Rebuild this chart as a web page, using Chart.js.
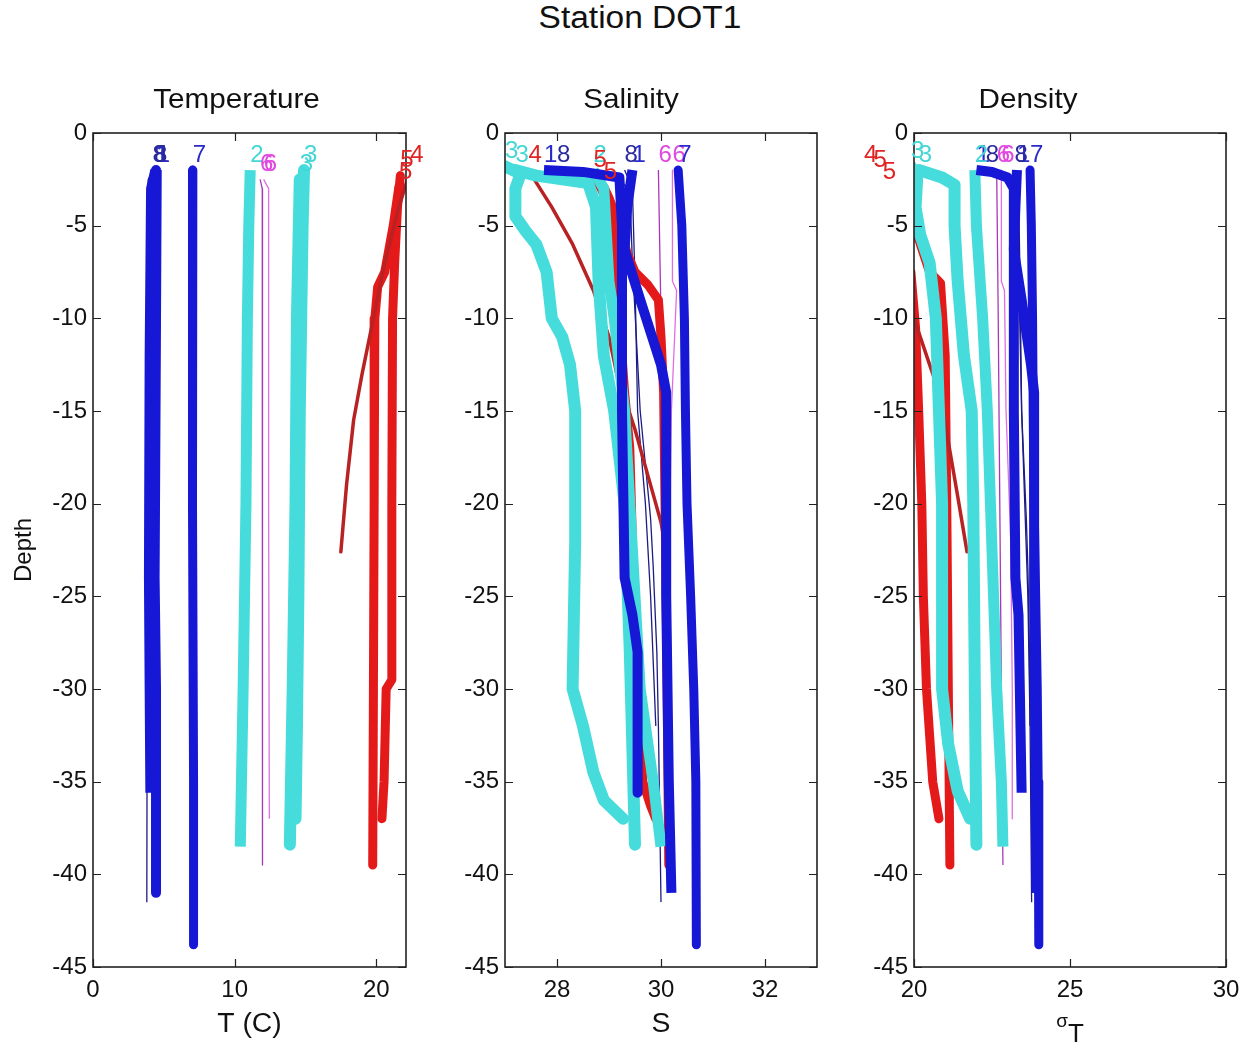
<!DOCTYPE html>
<html>
<head>
<meta charset="utf-8">
<script src="https://cdn.jsdelivr.net/npm/chart.js@4.4.0/dist/chart.umd.min.js"></script>
<style>
  body { margin: 0; background: #fff; width: 1252px; height: 1047px; position: relative; overflow: hidden;
         font-family: "Liberation Sans", Arial, sans-serif; }
  #title { position: absolute; left: 640px; top: 0px; transform: translateX(-50%) scaleX(1.08);
           font-size: 31px; line-height: 36px; color: #111; white-space: nowrap; }
  canvas { position: absolute; top: 0; }
</style>
</head>
<body>
<div id="title">Station DOT1</div>
<canvas id="cT" width="430" height="1047" style="left:0"></canvas>
<canvas id="cS" width="400" height="1047" style="left:440px"></canvas>
<canvas id="cD" width="402" height="1047" style="left:850px"></canvas>

<script>
"use strict";

// profiles: [value, depth]
// temperature (C)
const t1a = [[4.4,-2],[4.1,-3],[4.0,-12],[3.95,-24],[4.0,-30],[4.05,-35.6]];
const t1b = [[4.5,-2],[4.45,-10],[4.35,-24],[4.45,-30],[4.45,-41]];
const t2  = [[11.1,-2],[11.0,-5],[10.9,-10],[10.8,-20],[10.6,-30],[10.4,-38.5]];
const t3a = [[14.9,-2],[14.8,-5],[14.6,-15],[14.5,-25],[14.4,-32],[14.3,-37]];
const t3b = [[14.6,-2.5],[14.4,-10],[14.3,-20],[14.1,-30],[13.9,-38.4]];
const t4  = [[22.4,-2],[21.6,-4],[20.6,-7],[19.8,-10],[19.0,-13],[18.4,-15.5],[17.9,-19],[17.5,-22.6]];
const t5a = [[21.7,-2.3],[21.5,-4],[21.3,-7],[21.15,-10],[21.1,-20],[21.1,-29.5],[20.7,-30],[20.55,-35],[20.4,-37]];
const t5b = [[21.6,-2.9],[21.2,-5],[20.6,-7.5],[20.1,-8.3],[19.9,-10],[19.85,-20],[19.8,-30],[19.75,-39.5]];
const t6a = [[11.8,-2.5],[11.95,-3],[11.95,-10],[12.0,-20],[11.95,-39.5]];
const t6b = [[12.05,-2.5],[12.4,-3],[12.4,-20],[12.45,-37]];
const t7  = [[7.05,-2],[7.0,-5],[7.05,-20],[7.1,-35],[7.1,-43.8]];
const t8a = [[4.3,-2],[3.9,-2.5],[3.85,-20],[3.8,-41.5]];
const t8b = [[4.2,-2],[3.9,-3],[3.85,-32]];

// salinity
const s1a = [[27.75,-2],[28.5,-2.1],[29.2,-2.4],[29.25,-5],[29.25,-15],[29.3,-24],[29.45,-26],[29.55,-28],[29.55,-35.6]];
const s1b = [[29.45,-2],[29.35,-4],[29.3,-6.3],[29.6,-9],[30.0,-12.5],[30.1,-14],[30.1,-25],[30.15,-35],[30.2,-41]];
const s2  = [[28.7,-2],[28.9,-3],[29.0,-8],[29.1,-10],[29.3,-15],[29.4,-20],[29.5,-25],[29.6,-30],[29.85,-35],[30.0,-38.5]];
const s3a = [[27.0,-1.8],[27.3,-2.2],[27.2,-3],[27.2,-4.5],[27.4,-5.3],[27.6,-6],[27.8,-7.5],[27.9,-10],[28.1,-11],
             [28.25,-12.5],[28.35,-15],[28.35,-22],[28.3,-30],[28.5,-32],[28.7,-34.5],[28.9,-36],[29.27,-37]];
const s3b = [[27.2,-2],[27.6,-2.3],[28.6,-2.7],[28.75,-4],[28.8,-8],[28.9,-12],[29.1,-15],[29.3,-20],[29.4,-28],[29.5,-38.4]];
const s4  = [[27.45,-2],[27.9,-4],[28.3,-6],[28.7,-8.5],[29.0,-11],[29.15,-13],[29.5,-16],[29.8,-19],[30.0,-21],[30.1,-22.6]];
const s5a = [[28.7,-2.3],[28.85,-3],[29.0,-4],[29.1,-6],[29.2,-10],[29.3,-14],[29.4,-17],[29.45,-22],[29.5,-28],
             [29.6,-32],[29.65,-35],[29.8,-36.3],[29.9,-37]];
const s5b = [[28.9,-2.9],[29.0,-3.5],[29.2,-5],[29.35,-6.5],[29.5,-7.5],[29.75,-8.2],[29.95,-9],[30.0,-11],[30.05,-14],[30.1,-25],[30.15,-39.5]];
const s6a = [[29.95,-2],[30.0,-10],[30.05,-20],[30.1,-30],[30.1,-39.5]];
const s6b = [[30.22,-2],[30.22,-8],[30.3,-8.5],[30.2,-15],[30.15,-25],[30.15,-37]];
const s7  = [[30.33,-2],[30.4,-5],[30.45,-10],[30.47,-15],[30.5,-20],[30.57,-25],[30.63,-30],[30.67,-35],[30.68,-43.8]];
const s8a = [[28.0,-2],[28.7,-2.1],[29.2,-2.6],[29.4,-3],[29.45,-7],[29.6,-15],[29.8,-20.8],[29.85,-23.4],[29.92,-28],[29.95,-32],[30.0,-41.5]];
const s8b = [[29.3,-2],[29.45,-3],[29.5,-8],[29.55,-15],[29.7,-20],[29.8,-25],[29.9,-32]];

// density (sigma-t)
const d1a = [[22.0,-2],[22.5,-2.1],[23.0,-2.4],[23.2,-3],[23.2,-15],[23.25,-24],[23.35,-26],[23.45,-35.6]];
const d1b = [[23.3,-2],[23.25,-4],[23.2,-6.3],[23.45,-9],[23.75,-12.5],[23.85,-14],[23.85,-25],[23.9,-35],[23.92,-41]];
const d2  = [[21.95,-2],[22.0,-5],[22.2,-10],[22.35,-15],[22.45,-20],[22.55,-25],[22.65,-30],[22.8,-35],[22.85,-38.5]];
const d3a = [[19.9,-1.8],[20.1,-2.5],[20.05,-4],[20.2,-5.5],[20.5,-7],[20.7,-10],[20.8,-15],[20.9,-20],[20.9,-30],[21.1,-33],[21.4,-35.5],[21.8,-37]];
const d3b = [[20.15,-2],[20.9,-2.4],[21.3,-2.8],[21.3,-5],[21.4,-8],[21.6,-12],[21.85,-15],[21.9,-20],[21.95,-30],[22.0,-38.4]];
const d4  = [[18.4,-2],[18.9,-4],[19.5,-7],[20.0,-10],[20.5,-12.5],[20.85,-14.2],[21.4,-19.6],[21.7,-22.6]];
const d5a = [[18.7,-2.3],[19.3,-3.5],[19.7,-5],[19.9,-7.5],[20.05,-10.5],[20.15,-15],[20.25,-20],[20.3,-25],[20.4,-30],[20.6,-35],[20.8,-37]];
const d5b = [[19.0,-2.9],[19.5,-3.8],[20.05,-5.2],[20.3,-6.5],[20.5,-7.5],[20.85,-8.1],[21.0,-12],[21.05,-20],[21.1,-30],[21.15,-39.5]];
const d6a = [[22.65,-2],[22.7,-10],[22.75,-20],[22.8,-30],[22.85,-39.5]];
const d6b = [[22.8,-2],[22.8,-8],[22.9,-8.5],[22.95,-15],[23.1,-22],[23.15,-30],[23.15,-37]];
const d7  = [[23.72,-2],[23.76,-5],[23.8,-10],[23.82,-15],[23.85,-20],[23.9,-25],[23.95,-30],[23.98,-35],[24.0,-43.8]];
const d8a = [[22.3,-2],[22.75,-2.2],[23.15,-2.6],[23.3,-3],[23.35,-7],[23.45,-15],[23.6,-20.8],[23.65,-23.4],[23.7,-28],[23.72,-32],[23.77,-41.5]];
const d8b = [[23.22,-2],[23.35,-3],[23.4,-8],[23.45,-15],[23.55,-20],[23.65,-25],[23.72,-32]];

const depthTicks = [0, -5, -10, -15, -20, -25, -30, -35, -40, -45];
const tempTicks = [0, 10, 20];
const saltTicks = [28, 30, 32];
const densTicks = [20, 25, 30];

// marker styles (matlab-ish), drawn as bands; tex = speckle overlay
const styles = {
  sq:    { color: '#1717d6', width: 10, cap: 'butt',  tex: { color: 'rgba(255,255,255,0.55)', width: 1.4, dash: [1, 5] } },
  circB: { color: '#1717d6', width: 9,  cap: 'round', tex: { color: 'rgba(255,255,255,0.45)', width: 1.4, dash: [1, 7] } },
  plus:  { color: '#46dcdc', width: 11, cap: 'butt',  tex: { color: 'rgba(190,250,250,0.8)', width: 3, dash: [2, 3] } },
  circC: { color: '#46dcdc', width: 12, cap: 'round', tex: { color: 'rgba(170,245,245,0.6)', width: 2, dash: [2, 4] } },
  xThin: { color: '#b82222', width: 3.5, cap: 'round', tex: null },
  star:  { color: '#e41a1a', width: 9,  cap: 'round', tex: { color: 'rgba(140,10,10,0.55)', width: 1.5, dash: [1, 3] } },
  lineP: { color: '#a838b8', width: 1.3, cap: 'butt', tex: null },
  lineM: { color: '#e070e0', width: 1.3, cap: 'butt', tex: null },
  lineN: { color: '#1c1c82', width: 1.3, cap: 'butt', tex: null }
};
const labelCol = { blue: '#2a2acc', cyan: '#44d6d6', red: '#e02424', mag: '#e048e0', navy: '#2a2a9e' };

const casts = [
  { st: '1', style: 'sq',    lc: 'blue', t: t1a, s: s1a, d: d1a },
  { st: '1', style: 'sq',    lc: 'blue', t: t1b, s: s1b, d: d1b },
  { st: '2', style: 'plus',  lc: 'cyan', t: t2,  s: s2,  d: d2 },
  { st: '3', style: 'circC', lc: 'cyan', t: t3a, s: s3a, d: d3a },
  { st: '3', style: 'circC', lc: 'cyan', t: t3b, s: s3b, d: d3b },
  { st: '4', style: 'xThin', lc: 'red',  t: t4,  s: s4,  d: d4 },
  { st: '5', style: 'star',  lc: 'red',  t: t5a, s: s5a, d: d5a },
  { st: '5', style: 'star',  lc: 'red',  t: t5b, s: s5b, d: d5b },
  { st: '6', style: 'lineP', lc: 'mag',  t: t6a, s: s6a, d: d6a },
  { st: '6', style: 'lineM', lc: 'mag',  t: t6b, s: s6b, d: d6b },
  { st: '7', style: 'circB', lc: 'blue', t: t7,  s: s7,  d: d7 },
  { st: '8', style: 'lineN', lc: 'navy', t: t8a, s: s8a, d: d8a },
  { st: '8', style: 'lineN', lc: 'navy', t: t8b, s: s8b, d: d8b }
];

const FONT = '"Liberation Sans", Arial, Helvetica, sans-serif';

function buildDatasets(key) {
  const out = [];
  casts.forEach(c => {
    const st = styles[c.style];
    const pts = c[key].map(p => ({ x: p[0], y: p[1] }));
    out.push({
      data: pts,
      showLine: true,
      borderColor: st.color,
      backgroundColor: st.color,
      borderWidth: st.width,
      borderCapStyle: st.cap,
      borderJoinStyle: 'round',
      pointRadius: 0,
      tension: 0,
      stationText: c.st,
      labelColor: labelCol[c.lc]
    });
    if (st.tex) {
      out.push({
        data: pts,
        showLine: true,
        borderColor: st.tex.color,
        borderWidth: st.tex.width,
        borderDash: st.tex.dash,
        pointRadius: 0,
        tension: 0,
        stationText: null
      });
    }
  });
  return out;
}

// frame + inward ticks on all four sides, like matlab's box on
const axesBox = {
  id: 'axesBox',
  afterDatasetsDraw(chart) {
    const { ctx, chartArea: a, scales: { x, y } } = chart;
    ctx.save();
    ctx.strokeStyle = '#222';
    ctx.lineWidth = 1.6;
    ctx.strokeRect(a.left, a.top, a.right - a.left, a.bottom - a.top);
    ctx.beginPath();
    x.ticks.forEach(t => {
      const px = Math.round(x.getPixelForValue(t.value)) + 0.5;
      ctx.moveTo(px, a.bottom); ctx.lineTo(px, a.bottom - 8);
      ctx.moveTo(px, a.top); ctx.lineTo(px, a.top + 8);
    });
    y.ticks.forEach(t => {
      const py = Math.round(y.getPixelForValue(t.value)) + 0.5;
      ctx.moveTo(a.left, py); ctx.lineTo(a.left + 8, py);
      ctx.moveTo(a.right, py); ctx.lineTo(a.right - 8, py);
    });
    ctx.lineWidth = 1.2;
    ctx.stroke();
    ctx.restore();
  }
};

// station number written at the top of each cast
const stationLabels = {
  id: 'stationLabels',
  afterDatasetsDraw(chart) {
    const { ctx, scales: { x, y } } = chart;
    ctx.save();
    ctx.font = '24px ' + FONT;
    ctx.textAlign = 'left';
    ctx.textBaseline = 'middle';
    chart.data.datasets.forEach(ds => {
      if (!ds.stationText) return;
      const p = ds.data[0];
      ctx.fillStyle = ds.labelColor;
      ctx.fillText(ds.stationText, x.getPixelForValue(p.x), y.getPixelForValue(p.y + 0.8));
    });
    ctx.restore();
  }
};

function stretchText(ctx, txt, cx, cy, sx) {
  ctx.save();
  ctx.translate(cx, cy);
  ctx.scale(sx, 1);
  ctx.fillText(txt, 0, 0);
  ctx.restore();
}

// subplot title, x label, y label
const panelText = {
  id: 'panelText',
  afterDraw(chart) {
    const { ctx, chartArea: a } = chart;
    const o = chart.options.plugins.panelText;
    const cx = (a.left + a.right) / 2;
    ctx.save();
    ctx.fillStyle = '#111';
    ctx.textAlign = 'center';
    ctx.textBaseline = 'alphabetic';
    ctx.font = '28px ' + FONT;
    stretchText(ctx, o.title, cx + o.titleShift, 108, 1.06);
    ctx.font = '27px ' + FONT;
    if (o.xlabel === 'sigma') {
      ctx.font = '19px ' + FONT;
      ctx.fillText('σ', cx - 8, 1027);
      ctx.font = '26px ' + FONT;
      ctx.fillText('T', cx + 6, 1042);
    } else {
      stretchText(ctx, o.xlabel, cx, 1032, 1.05);
    }
    if (o.ylabel) {
      ctx.translate(31, (a.top + a.bottom) / 2);
      ctx.rotate(-Math.PI / 2);
      ctx.font = '24px ' + FONT;
      ctx.fillText(o.ylabel, 0, 0);
    }
    ctx.restore();
  }
};

function makePanel(id, key, xmin, xmax, xTicks, yWidth, padRight, texts) {
  return new Chart(document.getElementById(id), {
    type: 'scatter',
    data: { datasets: buildDatasets(key) },
    options: {
      responsive: false,
      animation: false,
      events: [],
      layout: { padding: { left: 0, top: 133, right: padRight, bottom: 40 } },
      plugins: {
        legend: { display: false },
        tooltip: { enabled: false },
        panelText: texts
      },
      scales: {
        x: {
          type: 'linear', min: xmin, max: xmax,
          afterBuildTicks: s => { s.ticks = xTicks.map(v => ({ value: v })); },
          afterFit: s => { s.height = 40; },
          grid: { display: false, drawTicks: false },
          border: { display: false },
          ticks: { color: '#111', padding: 9, maxRotation: 0, font: { family: FONT, size: 24 } }
        },
        y: {
          type: 'linear', min: -45, max: 0,
          afterBuildTicks: s => { s.ticks = depthTicks.map(v => ({ value: v })); },
          afterFit: s => { s.width = yWidth; },
          grid: { display: false, drawTicks: false },
          border: { display: false },
          ticks: { color: '#111', padding: 6, font: { family: FONT, size: 24 } }
        }
      }
    },
    plugins: [axesBox, stationLabels, panelText]
  });
}

makePanel('cT', 't', 0, 22.1, tempTicks, 93, 24, { title: 'Temperature', titleShift: -13, xlabel: 'T (C)', ylabel: 'Depth' });
makePanel('cS', 's', 27, 33, saltTicks, 65, 23, { title: 'Salinity', titleShift: -30, xlabel: 'S' });
makePanel('cD', 'd', 20, 30, densTicks, 64, 26, { title: 'Density', titleShift: -42, xlabel: 'sigma' });
</script>
</body>
</html>
